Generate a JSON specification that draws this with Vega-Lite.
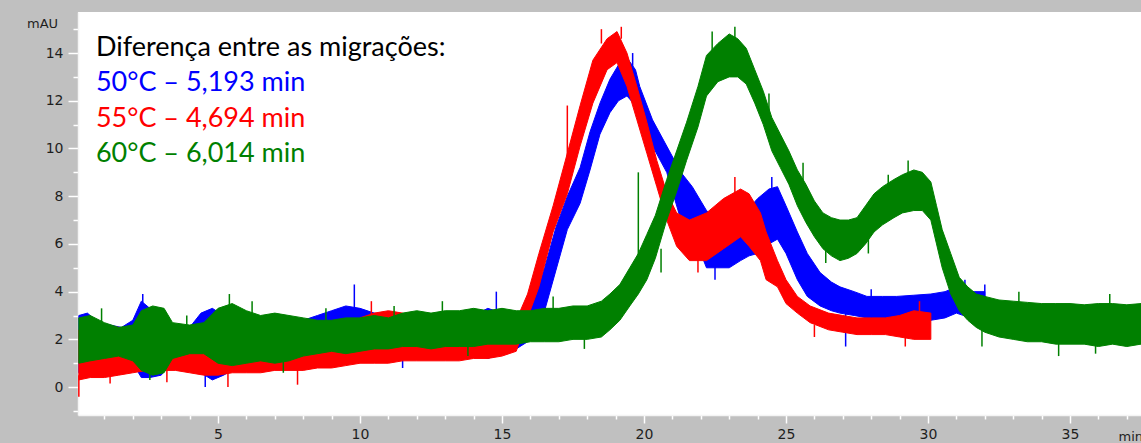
{
  "$schema": "https://vega.github.io/schema/vega-lite/v6.json",
  "width": 1063,
  "height": 403,
  "autosize": {"type": "none"},
  "padding": {"left": 78, "top": 12, "right": 0, "bottom": 28},
  "background": "#c0c0c0",
  "datasets": {
    "blue": [
      {"t":0.1,"y":0.6,"y2":3.0},{"t":0.4,"y":0.7,"y2":3.1},{"t":0.8,"y":1.0,"y2":2.7},{"t":1.2,"y":1.1,"y2":2.6},
      {"t":1.6,"y":1.2,"y2":2.5},{"t":2.0,"y":1.0,"y2":2.8},{"t":2.3,"y":0.4,"y2":3.6},{"t":2.6,"y":0.4,"y2":3.3},
      {"t":3.0,"y":0.5,"y2":3.0},{"t":3.4,"y":1.1,"y2":2.6},{"t":4.0,"y":1.2,"y2":2.5},{"t":4.4,"y":0.6,"y2":3.1},
      {"t":4.8,"y":0.3,"y2":3.3},{"t":5.2,"y":0.5,"y2":3.0},{"t":5.6,"y":0.8,"y2":2.7},{"t":6.0,"y":0.9,"y2":2.6},
      {"t":6.5,"y":1.0,"y2":2.5},{"t":7.0,"y":1.0,"y2":2.6},{"t":7.5,"y":1.0,"y2":2.7},{"t":8.0,"y":1.1,"y2":2.8},
      {"t":8.5,"y":1.2,"y2":3.0},{"t":9.0,"y":1.1,"y2":3.2},{"t":9.5,"y":1.0,"y2":3.4},{"t":10.0,"y":1.1,"y2":3.3},
      {"t":10.5,"y":1.2,"y2":3.1},{"t":11.0,"y":1.3,"y2":3.0},{"t":11.5,"y":1.4,"y2":2.9},{"t":12.0,"y":1.4,"y2":2.9},
      {"t":12.5,"y":1.4,"y2":2.9},{"t":13.0,"y":1.5,"y2":2.9},{"t":13.5,"y":1.4,"y2":2.9},{"t":14.0,"y":1.4,"y2":3.0},
      {"t":14.5,"y":1.2,"y2":3.3},{"t":15.0,"y":1.4,"y2":3.1},{"t":15.5,"y":1.6,"y2":3.0},{"t":15.9,"y":1.9,"y2":3.2},
      {"t":16.2,"y":2.6,"y2":4.0},{"t":16.5,"y":3.2,"y2":5.0},{"t":16.9,"y":4.9,"y2":6.7},{"t":17.3,"y":6.6,"y2":8.0},
      {"t":17.75,"y":7.7,"y2":9.2},{"t":18.1,"y":9.1,"y2":10.7},{"t":18.45,"y":10.6,"y2":11.9},{"t":18.8,"y":11.5,"y2":12.9},
      {"t":19.1,"y":12.0,"y2":13.5},{"t":19.4,"y":12.2,"y2":13.8},{"t":19.7,"y":11.8,"y2":13.3},{"t":19.85,"y":11.2,"y2":12.6},
      {"t":20.3,"y":10.1,"y2":11.2},{"t":20.8,"y":9.0,"y2":10.1},{"t":21.3,"y":7.0,"y2":9.0},{"t":21.7,"y":6.5,"y2":8.4},
      {"t":22.2,"y":5.0,"y2":7.4},{"t":22.6,"y":5.0,"y2":7.0},{"t":23.0,"y":5.0,"y2":6.8},{"t":23.4,"y":5.3,"y2":7.0},
      {"t":23.7,"y":5.5,"y2":7.5},{"t":24.0,"y":5.6,"y2":7.9},{"t":24.4,"y":6.0,"y2":8.3},{"t":24.7,"y":6.2,"y2":8.4},
      {"t":25.0,"y":5.6,"y2":7.6},{"t":25.4,"y":4.5,"y2":6.5},{"t":25.75,"y":3.8,"y2":5.6},{"t":26.2,"y":3.4,"y2":4.8},
      {"t":26.6,"y":3.2,"y2":4.4},{"t":26.9,"y":3.1,"y2":4.2},{"t":27.4,"y":3.0,"y2":4.0},{"t":27.85,"y":2.9,"y2":3.8},
      {"t":28.4,"y":2.8,"y2":3.8},{"t":28.9,"y":2.8,"y2":3.8},{"t":29.5,"y":2.8,"y2":3.85},{"t":30.1,"y":2.8,"y2":3.9},
      {"t":30.6,"y":2.9,"y2":4.0},{"t":31.0,"y":3.1,"y2":4.2},{"t":31.5,"y":2.9,"y2":4.0},{"t":32.0,"y":2.8,"y2":4.0}
    ],
    "red": [
      {"t":0.1,"y":0.3,"y2":2.4},{"t":0.5,"y":0.4,"y2":2.5},{"t":1.0,"y":0.4,"y2":2.6},{"t":1.5,"y":0.5,"y2":2.5},
      {"t":2.0,"y":0.6,"y2":2.2},{"t":2.5,"y":0.7,"y2":1.9},{"t":3.0,"y":0.7,"y2":1.9},{"t":3.5,"y":0.7,"y2":1.8},
      {"t":4.0,"y":0.6,"y2":1.8},{"t":4.5,"y":0.5,"y2":1.8},{"t":5.0,"y":0.5,"y2":1.7},{"t":5.5,"y":0.6,"y2":1.7},
      {"t":6.0,"y":0.6,"y2":1.8},{"t":6.5,"y":0.6,"y2":1.8},{"t":7.0,"y":0.7,"y2":1.8},{"t":7.5,"y":0.7,"y2":1.9},
      {"t":8.0,"y":0.7,"y2":1.9},{"t":8.5,"y":0.8,"y2":2.0},{"t":9.0,"y":0.8,"y2":2.0},{"t":9.5,"y":0.9,"y2":2.3},
      {"t":10.0,"y":1.0,"y2":2.9},{"t":10.5,"y":1.0,"y2":3.1},{"t":11.0,"y":1.0,"y2":3.2},{"t":11.5,"y":1.1,"y2":3.1},
      {"t":12.0,"y":1.1,"y2":2.8},{"t":12.5,"y":1.1,"y2":2.6},{"t":13.0,"y":1.1,"y2":2.5},{"t":13.5,"y":1.1,"y2":2.5},
      {"t":14.0,"y":1.2,"y2":2.5},{"t":14.5,"y":1.2,"y2":2.6},{"t":15.0,"y":1.3,"y2":2.6},{"t":15.5,"y":1.5,"y2":2.8},
      {"t":15.9,"y":2.9,"y2":3.9},{"t":16.3,"y":4.2,"y2":5.6},{"t":16.8,"y":6.5,"y2":7.6},{"t":17.3,"y":8.1,"y2":9.8},
      {"t":17.75,"y":10.1,"y2":11.8},{"t":18.2,"y":11.9,"y2":13.7},{"t":18.7,"y":13.3,"y2":14.6},{"t":19.05,"y":13.6,"y2":14.9},
      {"t":19.4,"y":12.6,"y2":14.0},{"t":19.75,"y":11.2,"y2":12.6},{"t":20.1,"y":9.8,"y2":11.1},{"t":20.45,"y":8.4,"y2":9.5},
      {"t":20.8,"y":7.0,"y2":8.15},{"t":21.15,"y":5.9,"y2":7.3},{"t":21.6,"y":5.3,"y2":7.0},{"t":22.2,"y":5.3,"y2":7.3},
      {"t":22.8,"y":5.8,"y2":7.9},{"t":23.4,"y":6.3,"y2":8.3},{"t":23.7,"y":5.9,"y2":8.1},{"t":24.1,"y":5.3,"y2":7.3},
      {"t":24.3,"y":4.5,"y2":6.5},{"t":24.7,"y":4.2,"y2":5.3},{"t":25.0,"y":3.5,"y2":4.5},{"t":25.4,"y":3.1,"y2":3.8},
      {"t":25.85,"y":2.7,"y2":3.4},{"t":26.5,"y":2.4,"y2":3.1},{"t":27.0,"y":2.3,"y2":3.0},{"t":27.5,"y":2.2,"y2":2.9},
      {"t":28.0,"y":2.2,"y2":2.9},{"t":28.5,"y":2.2,"y2":2.9},{"t":29.0,"y":2.1,"y2":3.0},{"t":29.5,"y":2.0,"y2":3.2},
      {"t":30.1,"y":2.0,"y2":3.1}
    ],
    "green": [
      {"t":0.1,"y":1.0,"y2":2.9},{"t":0.5,"y":1.1,"y2":3.0},{"t":1.0,"y":1.2,"y2":2.7},{"t":1.5,"y":1.3,"y2":2.5},
      {"t":2.0,"y":1.1,"y2":2.6},{"t":2.3,"y":0.7,"y2":3.2},{"t":2.7,"y":0.5,"y2":3.4},{"t":3.1,"y":0.6,"y2":3.3},
      {"t":3.4,"y":1.2,"y2":2.7},{"t":4.0,"y":1.4,"y2":2.6},{"t":4.5,"y":1.4,"y2":2.7},{"t":5.0,"y":1.0,"y2":3.3},
      {"t":5.5,"y":0.9,"y2":3.5},{"t":6.0,"y":1.0,"y2":3.2},{"t":6.5,"y":1.1,"y2":3.0},{"t":7.0,"y":1.0,"y2":3.1},
      {"t":7.5,"y":1.1,"y2":3.0},{"t":8.0,"y":1.3,"y2":2.9},{"t":8.5,"y":1.4,"y2":2.8},{"t":9.0,"y":1.5,"y2":2.8},
      {"t":9.5,"y":1.4,"y2":2.9},{"t":10.0,"y":1.5,"y2":2.9},{"t":10.5,"y":1.6,"y2":3.0},{"t":11.0,"y":1.6,"y2":2.9},
      {"t":11.5,"y":1.7,"y2":3.1},{"t":12.0,"y":1.7,"y2":3.2},{"t":12.5,"y":1.6,"y2":3.1},{"t":13.0,"y":1.7,"y2":3.2},
      {"t":13.5,"y":1.7,"y2":3.2},{"t":14.0,"y":1.7,"y2":3.3},{"t":14.5,"y":1.8,"y2":3.2},{"t":15.0,"y":1.8,"y2":3.3},
      {"t":15.5,"y":1.8,"y2":3.2},{"t":16.0,"y":1.9,"y2":3.2},{"t":16.5,"y":1.9,"y2":3.3},{"t":17.0,"y":1.9,"y2":3.3},
      {"t":17.5,"y":2.0,"y2":3.4},{"t":18.0,"y":2.0,"y2":3.4},{"t":18.5,"y":2.1,"y2":3.6},{"t":18.8,"y":2.4,"y2":3.9},
      {"t":19.15,"y":2.8,"y2":4.3},{"t":19.5,"y":3.4,"y2":5.0},{"t":19.8,"y":3.9,"y2":5.6},{"t":20.1,"y":4.5,"y2":6.4},
      {"t":20.4,"y":5.4,"y2":7.2},{"t":20.8,"y":7.0,"y2":8.7},{"t":21.15,"y":8.2,"y2":9.9},{"t":21.5,"y":9.5,"y2":11.1},
      {"t":21.9,"y":10.9,"y2":12.6},{"t":22.2,"y":12.2,"y2":13.9},{"t":22.6,"y":12.8,"y2":14.4},{"t":23.0,"y":13.0,"y2":14.8},
      {"t":23.3,"y":13.0,"y2":14.6},{"t":23.6,"y":12.7,"y2":14.2},{"t":23.9,"y":11.9,"y2":13.3},{"t":24.2,"y":11.0,"y2":12.4},
      {"t":24.5,"y":9.9,"y2":11.3},{"t":24.8,"y":9.2,"y2":10.6},{"t":25.1,"y":8.5,"y2":9.9},{"t":25.4,"y":7.6,"y2":9.1},
      {"t":25.7,"y":6.9,"y2":8.5},{"t":26.0,"y":6.3,"y2":7.8},{"t":26.3,"y":5.8,"y2":7.3},{"t":26.6,"y":5.5,"y2":7.1},
      {"t":26.9,"y":5.3,"y2":7.0},{"t":27.2,"y":5.4,"y2":7.0},{"t":27.5,"y":5.6,"y2":7.1},{"t":27.8,"y":6.0,"y2":7.6},
      {"t":28.1,"y":6.5,"y2":8.1},{"t":28.4,"y":6.8,"y2":8.4},{"t":28.8,"y":7.1,"y2":8.7},{"t":29.1,"y":7.3,"y2":8.9},
      {"t":29.5,"y":7.4,"y2":9.1},{"t":29.8,"y":7.4,"y2":9.0},{"t":30.1,"y":7.0,"y2":8.6},{"t":30.3,"y":6.0,"y2":7.6},
      {"t":30.5,"y":5.0,"y2":6.6},{"t":30.8,"y":3.9,"y2":5.6},{"t":31.1,"y":3.2,"y2":4.6},{"t":31.4,"y":2.8,"y2":4.2},
      {"t":31.7,"y":2.5,"y2":3.9},{"t":32.0,"y":2.3,"y2":3.8},{"t":32.5,"y":2.1,"y2":3.65},{"t":33.0,"y":2.0,"y2":3.6},
      {"t":33.5,"y":1.9,"y2":3.55},{"t":34.0,"y":1.9,"y2":3.5},{"t":34.5,"y":1.8,"y2":3.5},{"t":35.0,"y":1.8,"y2":3.5},
      {"t":35.5,"y":1.8,"y2":3.45},{"t":36.0,"y":1.7,"y2":3.5},{"t":36.5,"y":1.8,"y2":3.5},{"t":37.0,"y":1.7,"y2":3.45},
      {"t":37.5,"y":1.8,"y2":3.5}
    ],
    "spikes": [
      {"t":2.35,"y":3.0,"y2":3.9,"series":"50"},
      {"t":9.8,"y":3.0,"y2":4.3,"series":"50"},
      {"t":4.55,"y":0.0,"y2":0.5,"series":"50"},
      {"t":11.5,"y":0.8,"y2":1.5,"series":"50"},
      {"t":14.8,"y":3.0,"y2":4.0,"series":"50"},
      {"t":19.6,"y":13.4,"y2":14.0,"series":"50"},
      {"t":22.5,"y":4.5,"y2":5.1,"series":"50"},
      {"t":24.5,"y":8.2,"y2":8.8,"series":"50"},
      {"t":27.1,"y":1.7,"y2":3.2,"series":"50"},
      {"t":28.0,"y":3.7,"y2":4.1,"series":"50"},
      {"t":29.8,"y":2.3,"y2":2.9,"series":"50"},
      {"t":31.3,"y":3.9,"y2":4.5,"series":"50"},
      {"t":32.0,"y":3.5,"y2":4.3,"series":"50"},
      {"t":0.1,"y":-0.4,"y2":0.5,"series":"55"},
      {"t":1.2,"y":0.15,"y2":0.6,"series":"55"},
      {"t":3.2,"y":0.2,"y2":0.8,"series":"55"},
      {"t":5.35,"y":0.0,"y2":0.6,"series":"55"},
      {"t":7.8,"y":0.1,"y2":0.8,"series":"55"},
      {"t":10.4,"y":3.0,"y2":3.6,"series":"55"},
      {"t":17.3,"y":9.5,"y2":11.8,"series":"55"},
      {"t":18.5,"y":14.4,"y2":15.0,"series":"55"},
      {"t":19.2,"y":14.6,"y2":15.1,"series":"55"},
      {"t":21.9,"y":4.8,"y2":5.4,"series":"55"},
      {"t":23.2,"y":8.1,"y2":8.8,"series":"55"},
      {"t":26.0,"y":2.1,"y2":2.6,"series":"55"},
      {"t":29.2,"y":1.7,"y2":2.2,"series":"55"},
      {"t":29.7,"y":3.1,"y2":3.6,"series":"55"},
      {"t":0.9,"y":2.7,"y2":3.3,"series":"60"},
      {"t":2.6,"y":0.3,"y2":1.0,"series":"60"},
      {"t":3.9,"y":2.5,"y2":3.0,"series":"60"},
      {"t":5.4,"y":3.0,"y2":3.9,"series":"60"},
      {"t":6.2,"y":3.0,"y2":3.6,"series":"60"},
      {"t":7.3,"y":0.6,"y2":1.1,"series":"60"},
      {"t":8.8,"y":2.7,"y2":3.3,"series":"60"},
      {"t":11.2,"y":2.8,"y2":3.4,"series":"60"},
      {"t":12.9,"y":3.0,"y2":3.6,"series":"60"},
      {"t":13.8,"y":1.3,"y2":1.8,"series":"60"},
      {"t":16.8,"y":3.2,"y2":3.8,"series":"60"},
      {"t":17.9,"y":1.6,"y2":2.1,"series":"60"},
      {"t":19.8,"y":5.4,"y2":9.0,"series":"60"},
      {"t":20.6,"y":4.8,"y2":5.8,"series":"60"},
      {"t":22.4,"y":14.1,"y2":14.9,"series":"60"},
      {"t":23.2,"y":14.5,"y2":15.1,"series":"60"},
      {"t":24.4,"y":11.5,"y2":12.3,"series":"60"},
      {"t":25.6,"y":8.6,"y2":9.4,"series":"60"},
      {"t":26.4,"y":5.2,"y2":5.9,"series":"60"},
      {"t":27.9,"y":5.6,"y2":6.2,"series":"60"},
      {"t":28.6,"y":8.3,"y2":8.9,"series":"60"},
      {"t":29.3,"y":8.8,"y2":9.5,"series":"60"},
      {"t":31.9,"y":1.7,"y2":2.4,"series":"60"},
      {"t":33.2,"y":3.5,"y2":4.0,"series":"60"},
      {"t":34.6,"y":1.3,"y2":1.9,"series":"60"},
      {"t":35.9,"y":1.4,"y2":1.8,"series":"60"},
      {"t":36.4,"y":3.4,"y2":3.9,"series":"60"}
    ],
    "notes": [
      {"t":0.7,"y":13.87,"label":"Diferença entre as migrações:","series":"title"},
      {"t":0.7,"y":12.39,"label":"50°C – 5,193 min","series":"50"},
      {"t":0.7,"y":10.92,"label":"55°C – 4,694 min","series":"55"},
      {"t":0.7,"y":9.45,"label":"60°C – 6,014 min","series":"60"}
    ]
  },
  "encoding": {
    "x": {
      "field": "t", "type": "quantitative",
      "scale": {"domain": [0.07, 37.5], "nice": false, "zero": false},
      "axis": {
        "title": "min",
        "values": [1,2,3,4,5,6,7,8,9,10,11,12,13,14,15,16,17,18,19,20,21,22,23,24,25,26,27,28,29,30,31,32,33,34,35,36,37],
        "format": "d",
        "labelExpr": "datum.value % 5 === 0 ? datum.label : ''",
        "tickSize": {"condition": {"test": "datum.value % 5 === 0", "value": 8}, "value": 4},
        "tickColor": "#ffffff",
        "labelPadding": 4,
        "labelFlush": false,
        "labelOverlap": false,
        "titleX": 1040, "titleY": 25, "titleAlign": "left", "titleBaseline": "alphabetic", "titleAnchor": null
      }
    },
    "y": {
      "field": "y", "type": "quantitative",
      "scale": {"domain": [-1.17, 15.72], "nice": false, "zero": false},
      "axis": {
        "title": "mAU",
        "values": [-1,-0.5,0,0.5,1,1.5,2,2.5,3,3.5,4,4.5,5,5.5,6,6.5,7,7.5,8,8.5,9,9.5,10,10.5,11,11.5,12,12.5,13,13.5,14,14.5,15,15.5],
        "format": "d",
        "labelExpr": "(datum.value % 2 === 0 && datum.value >= 0) ? datum.label : ''",
        "tickSize": {"condition": {"test": "datum.value % 2 === 0", "value": 10}, "value": 5},
        "tickColor": "#ffffff",
        "labelPadding": 5,
        "labelOverlap": false,
        "labelFlush": false,
        "titleAngle": 0, "titleX": -36, "titleY": 11, "titleAlign": "center", "titleBaseline": "middle", "titleAnchor": null
      }
    }
  },
  "layer": [
    {"data": {"name": "blue"}, "mark": {"type": "area", "color": "#0000ff", "stroke": "#0000ff", "strokeWidth": 1}, "encoding": {"y2": {"field": "y2"}}},
    {"data": {"name": "spikes"}, "transform": [{"filter": "datum.series === '50'"}], "mark": {"type": "rule", "strokeWidth": 1.5, "color": "#0000ff"}, "encoding": {"y2": {"field": "y2"}}},
    {"data": {"name": "red"}, "mark": {"type": "area", "color": "#ff0000", "stroke": "#ff0000", "strokeWidth": 1}, "encoding": {"y2": {"field": "y2"}}},
    {"data": {"name": "spikes"}, "transform": [{"filter": "datum.series === '55'"}], "mark": {"type": "rule", "strokeWidth": 1.5, "color": "#ff0000"}, "encoding": {"y2": {"field": "y2"}}},
    {"data": {"name": "green"}, "mark": {"type": "area", "color": "#008000", "stroke": "#008000", "strokeWidth": 1}, "encoding": {"y2": {"field": "y2"}}},
    {"data": {"name": "spikes"}, "transform": [{"filter": "datum.series === '60'"}], "mark": {"type": "rule", "strokeWidth": 1.5, "color": "#008000"}, "encoding": {"y2": {"field": "y2"}}},
    {"data": {"name": "notes"}, "mark": {"type": "text", "font": "Lato", "fontSize": 27, "align": "left", "baseline": "alphabetic"}, "encoding": {
      "text": {"field": "label"},
      "color": {"field": "series", "type": "nominal", "scale": {"domain": ["title","50","55","60"], "range": ["#000000","#0000ff","#ff0000","#008000"]}, "legend": null}
    }}
  ],
  "config": {
    "view": {"stroke": null, "fill": "white"},
    "axis": {
      "grid": false,
      "labelFont": "DejaVu Sans", "labelFontSize": 14, "labelColor": "#1e1e1e",
      "titleFont": "DejaVu Sans", "titleFontSize": 13, "titleFontWeight": "normal", "titleColor": "#1e1e1e",
      "domainColor": "#f4f4f4", "domainWidth": 1.5, "tickColor": "#ffffff", "tickWidth": 1.5
    }
  }
}
